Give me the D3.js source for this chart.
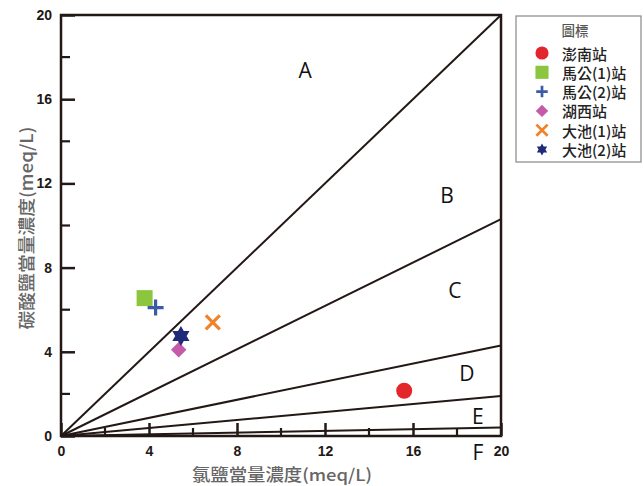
<!DOCTYPE html>
<html>
<head>
<meta charset="utf-8">
<script src="https://cdnjs.cloudflare.com/ajax/libs/d3/7.8.5/d3.min.js"></script>
<style>
  body { margin: 0; background: #fff; }
  svg { display: block; }
  .tick-label { font-family: "Liberation Sans", Arial, sans-serif; font-weight: bold; font-size: 14px; fill: #231815; }
  .cjk { font-family: "Noto Sans CJK TC", "Noto Sans", sans-serif; }
</style>
</head>
<body>
<div id="chart"></div>
<script>
// station data
const stations = ['澎南站', '馬公(1)站', '馬公(2)站', '湖西站', '大池(1)站', '大池(2)站'];
const chlorideValues = [15.6, 3.8, 4.3, 5.35, 6.9, 5.45];
const carbonateValues = [2.15, 6.55, 6.1, 4.1, 5.4, 4.75];
const stationColors = ['#e3262b', '#8cc63f', '#3b5aa9', '#c55aa9', '#f08228', '#1f2a78'];
const stationShapes = ['circle', 'square', 'plus', 'diamond', 'cross', 'hexagram'];

// boundary lines from origin, value of y at x = 20
const boundaryEnds = [20, 10.3, 4.3, 1.9, 0.4];
const regionLabels = ['A', 'B', 'C', 'D', 'E', 'F'];
const regionX = [11.1, 17.55, 17.9, 18.45, 18.95, 18.95];
const regionY = [17.4, 11.45, 6.95, 3.0, 0.95, -0.75];

const ticks = [0, 4, 8, 12, 16, 20];
const minorTicks = [2, 6, 10, 14, 18];

const W = 644, H = 486;
const margin = {left: 61, right: 143, top: 15, bottom: 50};
const width = W - margin.left - margin.right,
	height = H - margin.top - margin.bottom;

const x = d3.scaleLinear().domain([0, 20]).range([0, width]);
const y = d3.scaleLinear().domain([0, 20]).range([height, 0]);

const svg = d3.select('#chart').append('svg')
	.attr('width', W)
	.attr('height', H);

const g = svg.append('g')
	.attr('transform', 'translate(' + margin.left + ',' + margin.top + ')');

const ink = '#231815';

// boundary lines
g.selectAll('line.boundary')
	.data(boundaryEnds)
	.enter().append('line')
	.attr('class', 'boundary')
	.attr('x1', x(0)).attr('y1', y(0))
	.attr('x2', x(20)).attr('y2', d => y(d))
	.attr('stroke', ink)
	.attr('stroke-width', 2);

// frame
g.append('rect')
	.attr('width', width).attr('height', height)
	.attr('fill', 'none')
	.attr('stroke', ink)
	.attr('stroke-width', 2.5);

// axes, ticks pointing inward
const xAxis = d3.axisBottom(x).tickValues(ticks).tickSize(-13).tickPadding(10).tickSizeOuter(0);
const yAxis = d3.axisLeft(y).tickValues(ticks).tickSize(-14).tickPadding(9).tickSizeOuter(0);

const gX = g.append('g')
	.attr('transform', 'translate(0,' + height + ')')
	.call(xAxis);
const gY = g.append('g').call(yAxis);

[gX, gY].forEach(ax => {
	ax.select('.domain').remove();
	ax.selectAll('.tick line').attr('stroke', ink).attr('stroke-width', 2.5);
	ax.selectAll('.tick text').attr('class', 'tick-label');
});
gX.selectAll('.tick text').attr('dy', '0.71em');

// minor ticks
g.selectAll('line.minor-x')
	.data(minorTicks)
	.enter().append('line')
	.attr('x1', d => x(d)).attr('x2', d => x(d))
	.attr('y1', height).attr('y2', height - 8)
	.attr('stroke', ink).attr('stroke-width', 2.2);
g.selectAll('line.minor-y')
	.data(minorTicks)
	.enter().append('line')
	.attr('y1', d => y(d)).attr('y2', d => y(d))
	.attr('x1', 0).attr('x2', 9)
	.attr('stroke', ink).attr('stroke-width', 2.2);

// region labels
g.selectAll('text.region')
	.data(regionLabels)
	.enter().append('text')
	.attr('x', (d, i) => x(regionX[i]))
	.attr('y', (d, i) => y(regionY[i]))
	.attr('text-anchor', 'middle')
	.attr('dominant-baseline', 'central')
	.attr('font-family', '"Open Sans", "Liberation Sans", sans-serif')
	.attr('font-size', 21)
	.attr('fill', '#111')
	.text(d => d);

// axis titles
svg.append('text')
	.attr('class', 'cjk')
	.attr('x', 282)
	.attr('y', 481)
	.attr('text-anchor', 'middle')
	.attr('font-size', 16.5)
	.attr('font-weight', 500)
	.attr('fill', '#666')
	.attr('textLength', 180)
	.attr('lengthAdjust', 'spacingAndGlyphs')
	.text('氯鹽當量濃度(meq/L)');

svg.append('text')
	.attr('class', 'cjk')
	.attr('transform', 'translate(33,228) rotate(-90)')
	.attr('text-anchor', 'middle')
	.attr('font-size', 17)
	.attr('font-weight', 500)
	.attr('fill', '#666')
	.attr('textLength', 203)
	.attr('lengthAdjust', 'spacingAndGlyphs')
	.text('碳酸鹽當量濃度(meq/L)');

// marker drawing
const hexagram = {
	draw(context, size) {
		const r = Math.sqrt(size) * 0.75;
		for (let t = 0; t < 2; t++) {
			for (let k = 0; k < 3; k++) {
				const a = -Math.PI / 2 + t * Math.PI + k * 2 * Math.PI / 3;
				const px = r * Math.cos(a), py = r * Math.sin(a);
				if (k === 0) context.moveTo(px, py); else context.lineTo(px, py);
			}
			context.closePath();
		}
	}
};

function drawMarker(sel, shape, color, scale) {
	if (shape === 'circle') {
		sel.append('circle').attr('r', 8 * scale).attr('fill', color);
	} else if (shape === 'square') {
		const s = 16 * scale;
		sel.append('rect').attr('x', -s / 2).attr('y', -s / 2).attr('width', s).attr('height', s).attr('fill', color);
	} else if (shape === 'diamond') {
		const s = 11 * scale;
		sel.append('rect').attr('x', -s / 2).attr('y', -s / 2).attr('width', s).attr('height', s)
			.attr('transform', 'rotate(45)').attr('fill', color);
	} else if (shape === 'plus') {
		const s = 8 * scale;
		sel.append('path').attr('d', `M${-s},0H${s}M0,${-s}V${s}`)
			.attr('stroke', color).attr('stroke-width', 3.2 * Math.max(scale, 0.85)).attr('fill', 'none');
	} else if (shape === 'cross') {
		const s = 7 * scale;
		sel.append('path').attr('d', `M${-s},${-s}L${s},${s}M${-s},${s}L${s},${-s}`)
			.attr('stroke', color).attr('stroke-width', 3.2 * Math.max(scale, 0.85)).attr('fill', 'none');
	} else if (shape === 'hexagram') {
		sel.append('path').attr('d', d3.symbol(hexagram, 175 * scale * scale)()).attr('fill', color);
	}
}

// data points
stations.forEach((name, i) => {
	const m = g.append('g')
		.attr('transform', 'translate(' + x(chlorideValues[i]) + ',' + y(carbonateValues[i]) + ')');
	drawMarker(m, stationShapes[i], stationColors[i], 1);
});

// legend
const legendScale = [0.82, 0.82, 0.72, 0.8, 0.8, 0.6];
const legend = svg.append('g').attr('transform', 'translate(516,16)');
legend.append('rect')
	.attr('width', 125).attr('height', 146)
	.attr('fill', '#fff')
	.attr('stroke', '#888')
	.attr('stroke-width', 1.2);
legend.append('text')
	.attr('class', 'cjk')
	.attr('x', 59).attr('y', 14)
	.attr('text-anchor', 'middle')
	.attr('dominant-baseline', 'central')
	.attr('font-size', 13.5)
	.attr('font-weight', 500)
	.attr('fill', '#555')
	.text('圖標');

stations.forEach((name, i) => {
	const row = legend.append('g').attr('transform', 'translate(26,' + (37 + i * 19.3) + ')');
	drawMarker(row, stationShapes[i], stationColors[i], legendScale[i]);
	row.append('text')
		.attr('class', 'cjk')
		.attr('x', 20).attr('y', 0)
		.attr('dominant-baseline', 'central')
		.attr('font-size', 15)
		.attr('font-weight', 500)
		.attr('fill', '#222')
		.text(name);
});
</script>
</body>
</html>
